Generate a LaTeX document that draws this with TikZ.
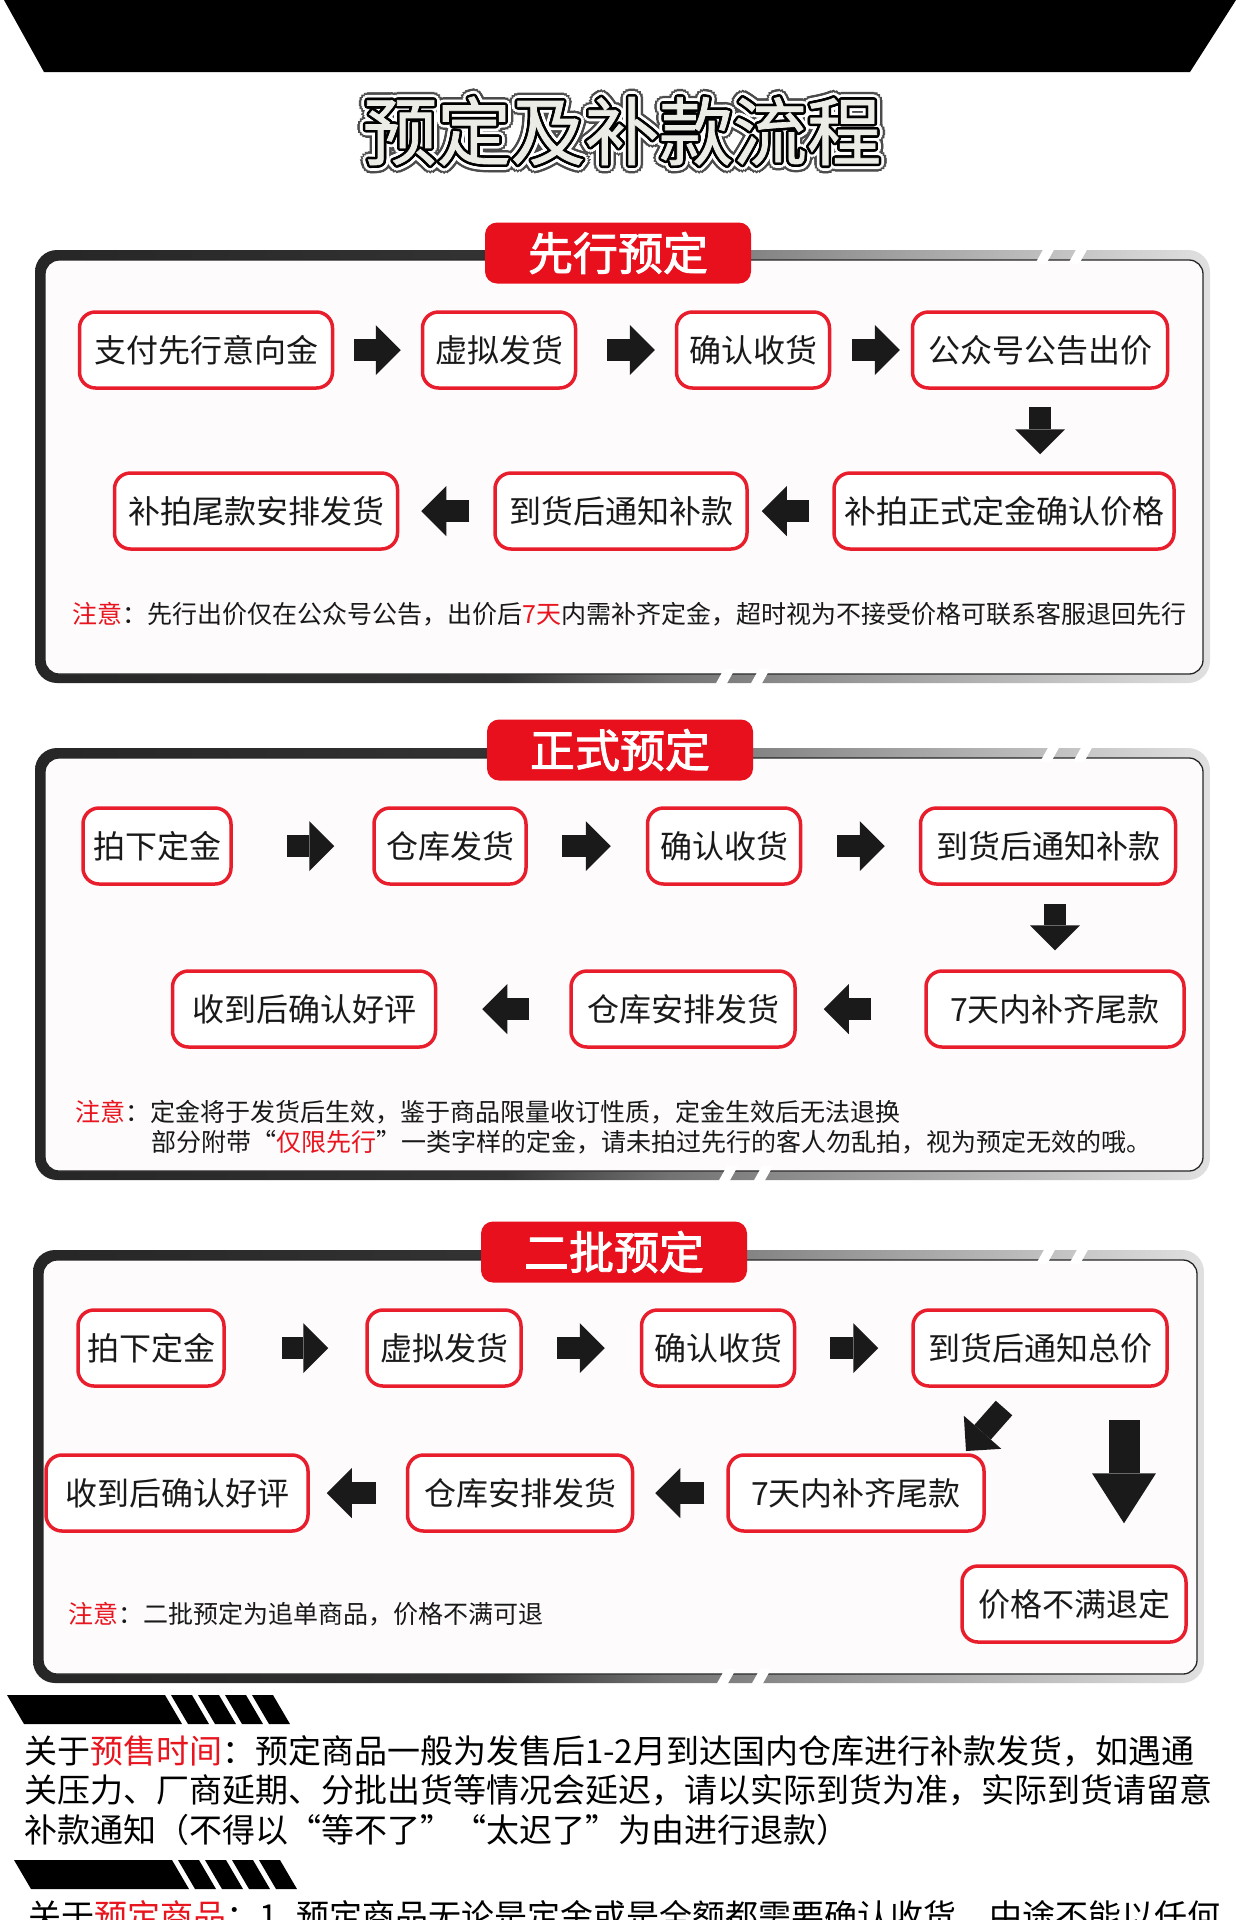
\documentclass[tikz,border=0pt]{standalone}
\usepackage{fontspec}
\usetikzlibrary{arrows.meta,calc}
\newfontfamily\cjk{Noto Sans CJK SC}
\newfontfamily\cjkb[FakeBold=2]{Noto Sans CJK SC}
\newfontfamily\cjkt[FakeBold=1]{Noto Sans CJK SC}
\definecolor{boxred}{RGB}{232,30,45}
\definecolor{labred}{RGB}{232,16,28}
\definecolor{notered}{RGB}{232,20,30}
\definecolor{innerbg}{RGB}{253,251,252}
\definecolor{arrowblack}{RGB}{26,26,26}
\definecolor{titlefill}{RGB}{236,236,230}
\pgfdeclarehorizontalshading{frameshade}{100bp}{color(0bp)=(black!85); color(25bp)=(black!85); color(45bp)=(black!80); color(52bp)=(black!55); color(75bp)=(black!12); color(100bp)=(black!12)}
\newcommand\bandframe[6]{%
  \shade[shading=frameshade, rounded corners=22] (#1,#2) rectangle (#3,#4);
  \draw[rounded corners=14, fill=innerbg, line width=1.3, draw=black!85] (#1+10,#2+10) rectangle (#3-7,#4-9);
  \fill[white] (#5,#2+14) -- (#5+9,#2-2) -- (#5+20,#2-2) -- (#5+11,#2+14) -- cycle;
  \fill[white] (#5+33,#2+14) -- (#5+42,#2-2) -- (#5+53,#2-2) -- (#5+44,#2+14) -- cycle;
  \fill[white] (#6,#4+2) -- (#6+9,#4-14) -- (#6+20,#4-14) -- (#6+11,#4+2) -- cycle;
  \fill[white] (#6+35,#4+2) -- (#6+44,#4-14) -- (#6+55,#4-14) -- (#6+46,#4+2) -- cycle;
}
\newcommand\stripebar[2]{%
  \fill[black] (#1,#2) -- (#1+158,#2) -- (#1+175,#2+29) -- (#1+17,#2+29) -- cycle;
  \foreach \s in {164,191,218,245}{
    \fill[black] (#1+\s,#2) -- (#1+\s+21,#2) -- (#1+\s+38,#2+29) -- (#1+\s+17,#2+29) -- cycle;}
}
\begin{document}
\begin{tikzpicture}[x=1pt,y=-1pt,
  box/.style={draw=boxred, line width=3.5, rounded corners=16, fill=white, minimum height=76, inner sep=0, font=\cjk\fontsize{32}{38}\selectfont, text=black!90},
  lbl/.style={fill=labred, rounded corners=12, minimum width=266, minimum height=61, inner sep=0, text=white, font=\cjkb\fontsize{45}{50}\selectfont},
  note/.style={anchor=west, inner sep=0, font=\cjk\fontsize{25}{30}\selectfont, text=black!90},
  para/.style={anchor=west, inner sep=0, font=\cjk\fontsize{33}{40}\selectfont, text=black},
  barrow/.style 2 args={draw=arrowblack, line width=22, -{Triangle[length=25pt,width=50pt,line width=0pt]}, shorten <=#1, shorten >=#2},
  bigarrow/.style 2 args={draw=arrowblack, line width=31, -{Triangle[length=50pt,width=64pt,line width=0pt]}, shorten <=#1, shorten >=#2},
  titlefont/.style={inner sep=0, font=\cjkt\fontsize{74}{80}\selectfont}
]
\useasboundingbox (0,0) rectangle (1240,1920);
\fill[white] (0,0) rectangle (1240,1920);
\clip (0,0) rectangle (1240,1920);
% top band
\fill[black] (4,0) -- (1236,0) -- (1190,72) -- (44,72) -- cycle;
% title
\coordinate (tc) at (622,131);
\foreach \a in {0,22.5,...,340}{\node[titlefont, text=black!70] at ($(tc)+(\a:8)$) {预定及补款流程};}
\foreach \a in {0,22.5,...,340}{\node[titlefont, text=white] at ($(tc)+(\a:5.5)$) {预定及补款流程};}
\foreach \a in {0,22.5,...,340}{\node[titlefont, text=black] at ($(tc)+(\a:2.6)$) {预定及补款流程};}
\node[titlefont, text=titlefill] (title) at (tc) {预定及补款流程};

% ===== section 1 =====
\bandframe{35}{250}{1210}{683}{1035}{715}
\node[lbl] (l1) at (618,253) {先行预定};
\node[box, minimum width=253] (a1) at (206,350) {支付先行意向金};
\node[box, minimum width=153] (a2) at (499,350) {虚拟发货};
\node[box, minimum width=153] (a3) at (753,350) {确认收货};
\node[box, minimum width=255] (a4) at (1040,350) {公众号公告出价};
\node[box, minimum width=283] (b1) at (256,511) {补拍尾款安排发货};
\node[box, minimum width=252] (b2) at (621,511) {到货后通知补款};
\node[box, minimum width=340] (b3) at (1004,511) {补拍正式定金确认价格};
\draw[barrow={20}{20}] (a1) -- (a2);
\draw[barrow={30}{20}] (a2) -- (a3);
\draw[barrow={21}{11}] (a3) -- (a4);
\draw[barrow={17}{17}] (a4) -- (a4 |- b3.north);
\draw[barrow={23}{13}] (b3) -- (b2);
\draw[barrow={24}{22}] (b2) -- (b1);
\node[note] (n1) at (72,614) {\textcolor{notered}{注意}：先行出价仅在公众号公告，出价后\textcolor{notered}{7天}内需补齐定金，超时视为不接受价格可联系客服退回先行};

% ===== section 2 =====
\bandframe{35}{748}{1210}{1180}{1040}{718}
\node[lbl] (l2) at (620,750) {正式预定};
\node[box, minimum width=148] (c1) at (157,846) {拍下定金};
\node[box, minimum width=152] (c2) at (450,846) {仓库发货};
\node[box, minimum width=153] (c3) at (724,846) {确认收货};
\node[box, minimum width=255] (c4) at (1048,846) {到货后通知补款};
\node[box, minimum width=263] (d1) at (304,1009) {收到后确认好评};
\node[box, minimum width=224] (d2) at (683,1009) {仓库安排发货};
\node[box, minimum width=258] (d3) at (1055,1009) {7天内补齐尾款};
\draw[barrow={54}{38}] (c1) -- (c2);
\draw[barrow={34}{35}] (c2) -- (c3);
\draw[barrow={35}{34}] (c3) -- (c4);
\draw[barrow={18}{19}] (c4.south -| d3.north) -- (d3.north);
\draw[barrow={53}{27}] (d3) -- (d2);
\draw[barrow={40}{45}] (d2) -- (d1);
\node[note] (n2a) at (75,1112) {\textcolor{notered}{注意}：定金将于发货后生效，鉴于商品限量收订性质，定金生效后无法退换};
\node[note] (n2b) at (151,1142) {部分附带“\textcolor{notered}{仅限先行}”一类字样的定金，请未拍过先行的客人勿乱拍，视为预定无效的哦。};

% ===== section 3 =====
\bandframe{33}{1250}{1204}{1683}{1036}{716}
\node[lbl] (l3) at (614,1252) {二批预定};
\node[box, minimum width=146] (e1) at (151,1348) {拍下定金};
\node[box, minimum width=154] (e2) at (444,1348) {虚拟发货};
\node[box, minimum width=153] (e3) at (718,1348) {确认收货};
\node[box, minimum width=254] (e4) at (1040,1348) {到货后通知总价};
\node[box, minimum width=262] (f1) at (177,1493) {收到后确认好评};
\node[box, minimum width=225] (f2) at (520,1493) {仓库安排发货};
\node[box, minimum width=256] (f3) at (856,1493) {7天内补齐尾款};
\node[box, minimum width=224] (g) at (1074,1604) {价格不满退定};
\draw[barrow={56}{37}] (e1) -- (e2);
\draw[barrow={34}{35}] (e2) -- (e3);
\draw[barrow={34}{33}] (e3) -- (e4);
\draw[barrow={22}{21}] (f3) -- (f2);
\draw[barrow={30}{17}] (f2) -- (f1);
\coordinate (dg1) at (1004,1408);
\coordinate (dg2) at (966,1451);
\draw[barrow={0}{0}] (dg1) -- (dg2);
\draw[bigarrow={32}{41}] ([xshift=84]e4.south) -- ([xshift=50]g.north);
\node[note] (n3) at (68,1614) {\textcolor{notered}{注意}：二批预定为追单商品，价格不满可退};

% ===== bottom =====
\stripebar{7}{1695}
\node[para] (p1) at (24,1751) {关于\textcolor{notered}{预售时间}：预定商品一般为发售后1-2月到达国内仓库进行补款发货，如遇通};
\node[para] (p2) at (24,1790) {关压力、厂商延期、分批出货等情况会延迟，请以实际到货为准，实际到货请留意};
\node[para] (p3) at (24,1830) {补款通知（不得以“等不了”“太迟了”为由进行退款）};
\stripebar{14}{1860}
\node[para] (p4) at (28,1916) {关于\textcolor{notered}{预定商品}：1. 预定商品无论是定金或是全额都需要确认收货，中途不能以任何};
\end{tikzpicture}
\end{document}
